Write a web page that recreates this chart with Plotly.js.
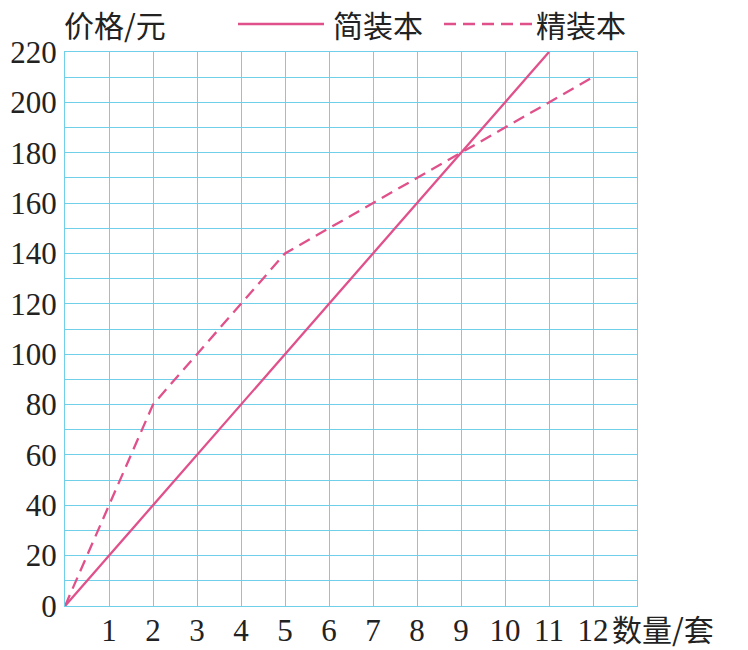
<!DOCTYPE html>
<html>
<head>
<meta charset="utf-8">
<script src="https://cdn.plot.ly/plotly-3.0.1.min.js"></script>
<style>html,body{margin:0;padding:0;background:#fff;}#chart{width:748px;height:650px;}</style>
</head>
<body>
<div id="chart"></div>
<script>
// Data
const simpleX = [0, 11];
const simplePrice = [0, 220];
const deluxeX = [0, 1, 2, 3, 4, 5, 6, 7, 8, 9, 10, 11, 12];
const deluxePrice = [0, 40, 80, 100, 120, 140, 150, 160, 170, 180, 190, 200, 210];
const xTickVals = [1, 2, 3, 4, 5, 6, 7, 8, 9, 10, 11, 12];
const yTickVals = [0, 20, 40, 60, 80, 100, 120, 140, 160, 180, 200, 220];
const seriesNames = ['简装本', '精装本'];

const pink = '#e0508a';
const gridColor = '#70d0ea';
const cjk = 'Noto Sans CJK SC';
const serif = 'Liberation Serif';

const traces = [
  {x: simpleX, y: simplePrice, name: seriesNames[0], mode: 'lines', type: 'scatter',
   line: {color: pink, width: 2.3}, hoverinfo: 'skip'},
  {x: deluxeX, y: deluxePrice, name: seriesNames[1], mode: 'lines', type: 'scatter',
   line: {color: pink, width: 2.3, dash: '12px,7px'}, hoverinfo: 'skip'}
];

const layout = {
  width: 748, height: 650,
  margin: {l: 65, r: 111, t: 52, b: 44},
  paper_bgcolor: '#fff', plot_bgcolor: '#fff',
  showlegend: false,
  xaxis: {
    range: [0, 13], tickmode: 'array', tickvals: xTickVals, ticktext: xTickVals.map(String),
    showgrid: true, gridcolor: gridColor, gridwidth: 1,
    showline: true, linecolor: gridColor, linewidth: 1, mirror: true,
    zeroline: false, ticks: '', ticklabelstandoff: -3, fixedrange: true,
    tickfont: {family: serif, size: 31, color: '#222'}
  },
  yaxis: {
    range: [0, 220], tickmode: 'array', tickvals: yTickVals, ticktext: yTickVals.map(String),
    showgrid: true, gridcolor: gridColor, gridwidth: 1,
    minor: {dtick: 10, tick0: 0, showgrid: true, gridcolor: gridColor, gridwidth: 1},
    showline: true, linecolor: gridColor, linewidth: 1, mirror: true,
    zeroline: false, ticks: '', ticklabelstandoff: 1, fixedrange: true,
    tickfont: {family: serif, size: 31, color: '#222'}
  },
  shapes: [
    {type: 'line', xref: 'paper', yref: 'paper', x0: (238-65)/572, x1: (324-65)/572,
     y0: (650-44-24)/554, y1: (650-44-24)/554, line: {color: pink, width: 2.3}},
    {type: 'line', xref: 'paper', yref: 'paper', x0: (444-65)/572, x1: (532-65)/572,
     y0: (650-44-24)/554, y1: (650-44-24)/554, line: {color: pink, width: 2.3, dash: '12px,7px'}}
  ],
  annotations: [
    {text: '价格/元', xref: 'paper', yref: 'paper', x: (62-65)/572, y: (650-44-24)/554,
     xanchor: 'left', yanchor: 'middle', showarrow: false,
     font: {family: cjk, size: 30, color: '#222'}},
    {text: seriesNames[0], xref: 'paper', yref: 'paper', x: (331-65)/572, y: (650-44-24)/554,
     xanchor: 'left', yanchor: 'middle', showarrow: false,
     font: {family: cjk, size: 30, color: '#222'}},
    {text: seriesNames[1], xref: 'paper', yref: 'paper', x: (534-65)/572, y: (650-44-24)/554,
     xanchor: 'left', yanchor: 'middle', showarrow: false,
     font: {family: cjk, size: 30, color: '#222'}},
    {text: '数量/套', xref: 'paper', yref: 'paper', x: (610-65)/572, y: (650-44-628)/554,
     xanchor: 'left', yanchor: 'middle', showarrow: false,
     font: {family: cjk, size: 30, color: '#222'}}
  ]
};

Plotly.newPlot('chart', traces, layout, {displayModeBar: false, staticPlot: true});
</script>
</body>
</html>
